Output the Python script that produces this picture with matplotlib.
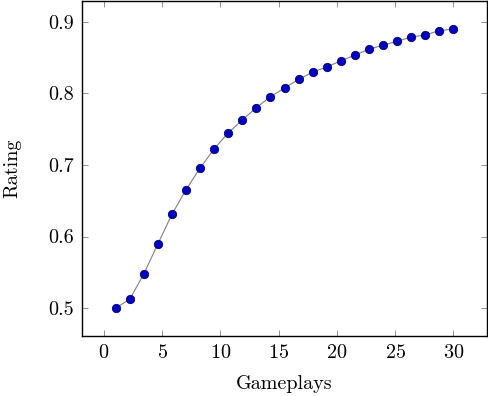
import numpy as np
import matplotlib
matplotlib.use("Agg")
import matplotlib.pyplot as plt

plt.rcParams['font.family'] = 'serif'
plt.rcParams['font.serif'] = ['cmr10', 'DejaVu Serif']
plt.rcParams['mathtext.fontset'] = 'cm'
plt.rcParams['axes.formatter.use_mathtext'] = True

# gameplays (x) and rating (y)
gameplays = [1.0, 2.21, 3.42, 4.63, 5.83, 7.04, 8.25, 9.46, 10.67, 11.88,
             13.08, 14.29, 15.5, 16.71, 17.92, 19.13, 20.33, 21.54, 22.75,
             23.96, 25.17, 26.38, 27.58, 28.79, 30.0]
rating = [0.500, 0.5125, 0.548, 0.590, 0.631, 0.6655, 0.6957, 0.7225, 0.7448,
          0.7629, 0.780, 0.7953, 0.8074, 0.8195, 0.8296, 0.8369, 0.8453,
          0.8533, 0.8616, 0.8672, 0.8727, 0.8787, 0.8815, 0.8876, 0.8898]

xlabel = "Gameplays"
ylabel = "Rating"

fig = plt.figure(figsize=(4.88, 3.96), dpi=100)
ax = fig.add_axes([0.168, 0.1515, 0.830, 0.846])

ax.plot(gameplays, rating, color="#808080", linewidth=0.8,
        marker="o", markersize=6, markerfacecolor="#0000bf",
        markeredgecolor="#00007f", markeredgewidth=0.6)

ax.set_xlim(-1.9, 32.9)
ax.set_ylim(0.461, 0.929)
ax.set_xticks([0, 5, 10, 15, 20, 25, 30])
ax.set_yticks([0.5, 0.6, 0.7, 0.8, 0.9])
ax.set_yticklabels(["0.5", "0.6", "0.7", "0.8", "0.9"])

ax.tick_params(direction="in", length=4.5, width=0.6, color="#808080",
               top=True, right=True, labelsize=14.5, pad=6, labelcolor="black")
for s in ax.spines.values():
    s.set_linewidth(1.0)

ax.set_xlabel(xlabel, fontsize=14.5, labelpad=9)
ax.set_ylabel(ylabel, fontsize=14.5, labelpad=19)

plt.savefig("out.png", dpi=100)
